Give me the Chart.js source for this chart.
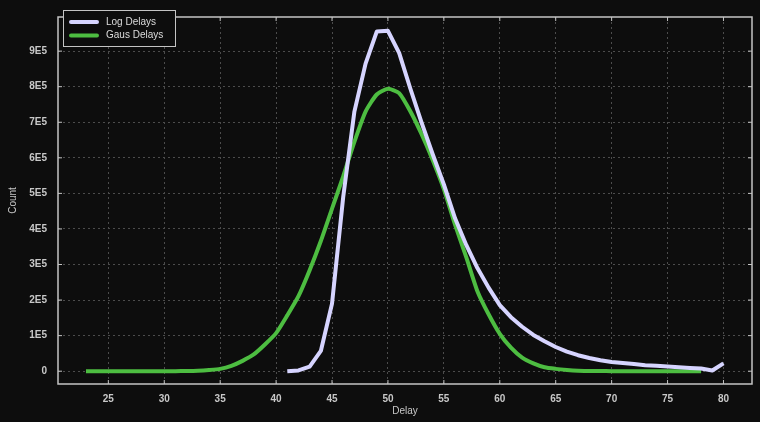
<!DOCTYPE html>
<html>
<head>
<meta charset="utf-8">
<script src="https://cdn.jsdelivr.net/npm/chart.js@4.4.1/dist/chart.umd.min.js"></script>
<style>
  html, body { margin: 0; padding: 0; background: #0d0d0d; }
  #wrap { width: 760px; height: 422px; }
</style>
</head>
<body>
<div id="wrap"><canvas id="delayChart" width="760" height="422"></canvas></div>
<script>
// delay histograms
var logX = [41, 42, 43, 44, 45, 46, 47, 48, 49, 50, 51, 52, 53, 54, 55, 56, 57, 58, 59, 60,
  61, 62, 63, 64, 65, 66, 67, 68, 69, 70, 71, 72, 73, 74, 75, 76, 77, 78, 79, 80];
var logDelays = [0, 2000, 13000, 57000, 190000, 490000, 730000, 865000, 955000, 957000,
  895000, 795000, 700000, 610000, 525000, 430000, 355000, 290000, 235000, 186000,
  152000, 125000, 102000, 84000, 68000, 55000, 45000, 37000, 31000, 26000,
  23000, 20000, 17000, 15000, 13000, 11000, 9000, 7500, 2000, 22000];

var gausX = [23, 24, 25, 26, 27, 28, 29, 30, 31, 32, 33, 34, 35, 36, 37, 38, 39, 40, 41, 42,
  43, 44, 45, 46, 47, 48, 49, 50, 51, 52, 53, 54, 55, 56, 57, 58, 59, 60, 61, 62,
  63, 64, 65, 66, 67, 68, 69, 70, 71, 72, 73, 74, 75, 76, 77, 78];
var gausDelays = [0, 0, 0, 0, 0, 0, 0, 0, 0, 500, 1500, 3500, 6600, 15000, 29000, 47000,
  75000, 107000, 157000, 211000, 284000, 366000, 457000, 548000, 645000, 730000,
  778000, 794000, 782000, 731000, 667000, 594000, 512000, 412000, 321000, 225000,
  160000, 105000, 66000, 38000, 22000, 11000, 6500, 3500, 1500, 800, 300, 200,
  100, 0, 0, 0, 0, 0, 0, 0];

var xTicks = [25, 30, 35, 40, 45, 50, 55, 60, 65, 70, 75, 80];
var yTickLabels = ['0', '1E5', '2E5', '3E5', '4E5', '5E5', '6E5', '7E5', '8E5', '9E5'];

function toPoints(xs, ys) {
  return xs.map(function (x, i) { return { x: x, y: ys[i] }; });
}

var fg = '#c8c8c8';
var font = { family: 'Liberation Sans, Arial, sans-serif', size: 10 };
var tickFont = { family: 'Liberation Sans, Arial, sans-serif', size: 10, weight: 'bold' };

// box around the plot + small inward ticks like the original
var framePlugin = {
  id: 'frame',
  afterDraw: function (chart) {
    var ctx = chart.ctx, a = chart.chartArea;
    var xs = chart.scales.x, ys = chart.scales.y;
    ctx.save();
    ctx.strokeStyle = '#c4c4c4';
    ctx.lineWidth = 1.5;
    ctx.strokeRect(a.left, a.top, a.right - a.left, a.bottom - a.top);
    ctx.lineWidth = 1;
    ctx.beginPath();
    ys.ticks.forEach(function (t) {
      var py = ys.getPixelForValue(t.value);
      ctx.moveTo(a.left, py); ctx.lineTo(a.left + 4, py);
      ctx.moveTo(a.right, py); ctx.lineTo(a.right - 4, py);
    });
    xs.ticks.forEach(function (t) {
      var px = xs.getPixelForValue(t.value);
      ctx.moveTo(px, a.bottom); ctx.lineTo(px, a.bottom - 4);
      ctx.moveTo(px, a.top); ctx.lineTo(px, a.top + 4);
    });
    ctx.stroke();
    ctx.restore();
  }
};

var legendPlugin = {
  id: 'boxLegend',
  afterDraw: function (chart) {
    var ctx = chart.ctx;
    var left = 63, top = 10, w = 112, h = 36;
    ctx.save();
    ctx.fillStyle = '#0d0d0d';
    ctx.fillRect(left, top, w, h);
    ctx.strokeStyle = '#c4c4c4';
    ctx.lineWidth = 1;
    ctx.strokeRect(left + 0.5, top + 0.5, w, h);
    ctx.font = '10px ' + font.family;
    ctx.textBaseline = 'middle';
    chart.data.datasets.forEach(function (ds, i) {
      var y = top + 12 + i * 13.5;
      ctx.strokeStyle = ds.borderColor;
      ctx.lineWidth = 4;
      ctx.lineCap = 'round';
      ctx.beginPath();
      ctx.moveTo(left + 8, y); ctx.lineTo(left + 34, y);
      ctx.stroke();
      ctx.fillStyle = '#dcdcdc';
      ctx.fillText(ds.label, left + 43, y);
    });
    ctx.restore();
  }
};

new Chart(document.getElementById('delayChart'), {
  type: 'line',
  data: {
    datasets: [{
      label: 'Log Delays',
      data: toPoints(logX, logDelays),
      borderColor: '#d6d4ff',
      borderWidth: 4,
      pointRadius: 0,
      tension: 0,
      borderJoinStyle: 'round'
    }, {
      label: 'Gaus Delays',
      data: toPoints(gausX, gausDelays),
      borderColor: '#4dbd41',
      borderWidth: 4,
      pointRadius: 0,
      tension: 0.2,
      borderJoinStyle: 'round'
    }]
  },
  options: {
    responsive: false,
    animation: false,
    layout: { padding: { top: 6, right: 8, left: 0, bottom: 0 } },
    plugins: { legend: { display: false }, tooltip: { enabled: false } },
    scales: {
      x: {
        type: 'linear',
        min: 20.5,
        max: 82.55,
        afterFit: function (s) { s.height = 38; },
        afterBuildTicks: function (s) {
          s.ticks = xTicks.map(function (v) { return { value: v }; });
        },
        ticks: { color: fg, font: tickFont, padding: 9, autoSkip: false },
        grid: { color: '#4c4c4c', lineWidth: 1, drawTicks: false },
        border: { display: false, dash: [2, 3] },
        title: { display: true, text: 'Delay', color: fg, font: font, padding: { top: 0, bottom: 5 } }
      },
      y: {
        min: -36000,
        max: 996000,
        afterFit: function (s) { s.width = 58; },
        afterBuildTicks: function (s) {
          s.ticks = yTickLabels.map(function (lbl, i) { return { value: i * 100000 }; });
        },
        ticks: {
          color: fg,
          font: tickFont,
          padding: 11,
          callback: function (v) { return yTickLabels[Math.round(v / 100000)]; }
        },
        grid: { color: '#4c4c4c', lineWidth: 1, drawTicks: false },
        border: { display: false, dash: [2, 3] },
        title: { display: true, text: 'Count', color: fg, font: font, padding: { top: 7, bottom: 0 } }
      }
    }
  },
  plugins: [framePlugin, legendPlugin]
});
</script>
</body>
</html>
